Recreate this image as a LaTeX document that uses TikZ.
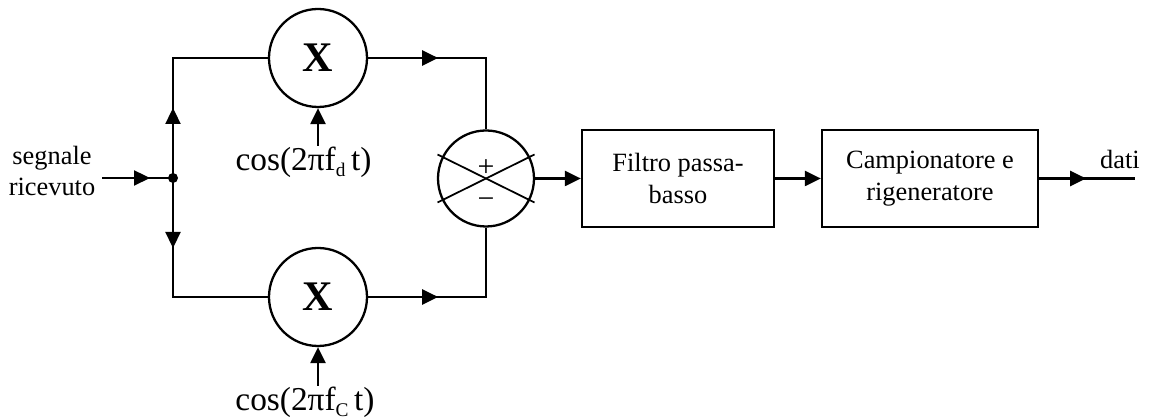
\documentclass[tikz,border=0pt]{standalone}
\usepackage{fontspec}
\setmainfont{Liberation Serif}
\usetikzlibrary{arrows.meta,calc}

\newcommand{\pedice}[1]{\raisebox{-0.35ex}{\fontsize{11}{11}\selectfont #1}}

\tikzset{
	arr/.style={-{Triangle[length=0.32cm,width=0.3cm]}},
	mixer/.style={draw,circle,minimum size=1.96cm,inner sep=0pt,
		font=\fontsize{24}{26}\selectfont\bfseries},
	block/.style={draw,rectangle,minimum width=#1,minimum height=1.94cm,
		align=center,inner sep=0pt,font=\fontsize{15}{18}\selectfont},
	block/.default=3.84cm,
	lbl/.style={inner sep=0pt,align=center,font=\fontsize{15}{18}\selectfont},
	osc/.style={inner sep=0pt,anchor=north,font=\fontsize{19}{22}\selectfont},
	segno/.style={inner sep=0pt,font=\fontsize{17}{17}\selectfont},
}

\begin{document}
\begin{tikzpicture}[line width=1.3pt]
	\useasboundingbox (0,0) rectangle (23.06,8.38);

	% blocchi
	\node[mixer] (mixd) at (6.36,7.22) {X};
	\node[mixer] (mixc) at (6.36,2.44) {X};
	\node[draw,circle,minimum size=1.92cm,inner sep=0pt] (sum) at (9.72,4.81) {};
	\node[block] (filt) at (13.56,4.81) {Filtro passa-\\basso};
	\node[block=4.32cm] (camp) at (18.6,4.81) {Campionatore e\\rigeneratore};

	% etichette
	\node[lbl] (in) at (1.04,4.96) {segnale\\ricevuto};
	\node[lbl] (dati) at (22.4,5.2) {dati};
	\node[osc] (cosd) at (6.07,5.46) {cos(2πf\pedice{d}\,t)};
	\node[osc] (cosc) at (6.1,0.66) {cos(2πf\pedice{C}\,t)};
	\node[segno] (plus) at (9.72,5.01) {+};
	\node[segno] (minus) at (9.72,4.31) {−};

	\coordinate (start) at (2.04,4.82);
	\coordinate (junc) at (3.46,4.82);
	\coordinate (out) at (22.7,4.81);

	% croce nel sommatore
	\draw[line width=1pt] ($(sum)+(-0.97,0.48)$) -- ($(sum)+(0.97,-0.48)$);
	\draw[line width=1pt] ($(sum)+(-0.97,-0.48)$) -- ($(sum)+(0.97,0.48)$);

	% ingresso e diramazione
	\draw (start) -- (junc);
	\draw[arr] (start) -- ++(0.96,0);
	\fill (junc) circle(0.1);
	\draw (junc) |- (mixd);
	\draw (junc) |- (mixc);
	\draw[arr] (junc) -- ++(0,1.4);
	\draw[arr] (junc) -- ++(0,-1.4);

	% rami verso il sommatore
	\draw (mixd) -| (sum);
	\draw (mixc) -| (sum);
	\draw[arr] (mixd.east) -- ++(1.4,0);
	\draw[arr] (mixc.east) -- ++(1.4,0);

	% oscillatori
	\draw[arr] (cosd.north -| mixd) -- (mixd.south);
	\draw[arr] (cosc.north -| mixc) -- (mixc.south);

	% catena di uscita
	\draw[arr] (sum) -- (filt);
	\draw[arr] (filt) -- (camp);
	\draw (camp) -- (out);
	\draw[arr] (camp.east) -- ++(0.94,0);
\end{tikzpicture}
\end{document}
